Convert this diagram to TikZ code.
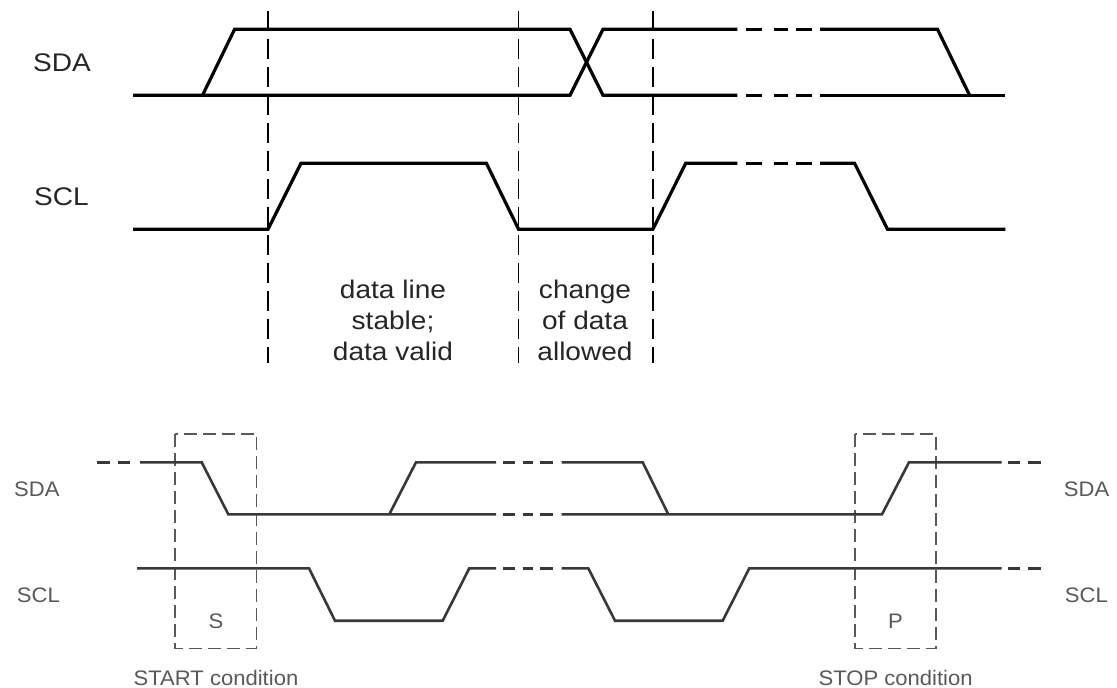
\documentclass[tikz,border=0pt]{standalone}
\usepackage{fontspec}
\setmainfont{Liberation Sans}
\newfontfamily\topf{Liberation Sans}[FakeStretch=1.1]
\newfontfamily\botf{Liberation Sans}[FakeStretch=1.05]
\tikzset{
  sig/.style={line width=3.2pt, black, line join=miter},
  bsig/.style={line width=2.6pt, black!78, line join=miter},
  vguide/.style={line width=1.4pt, black, dash pattern=on 20pt off 8pt},
  condbox/.style={line width=1.5pt, black!65, dash pattern=on 13pt off 6pt},
  toplbl/.style={inner sep=0pt, font=\topf\fontsize{25.5}{30}\selectfont, text=black!85},
  botlbl/.style={inner sep=0pt, font=\botf\fontsize{21}{25}\selectfont, text=black!65},
}
\begin{document}
\begin{tikzpicture}[x=1pt, y=-1pt]
\useasboundingbox (0,0) rectangle (1117,688);
\fill[white] (0,0) rectangle (1117,688);

% ---------- top diagram ----------
% guide lines
\draw[vguide] (268,11) -- (268,363);
\draw[vguide] (518.6,11) -- (518.6,363);
\draw[vguide] (652.9,11) -- (652.9,363);

% SDA
\draw[sig] (133,95.3) -- (570,95.3) -- (603,29.3) -- (737.3,29.3);
\draw[sig] (820,29.3) -- (937.5,29.3) -- (969.6,95.3);
\draw[sig] (202.5,95.3) -- (234.6,29.3) -- (570,29.3) -- (603,95.3) -- (737.3,95.3);
\draw[sig] (820,95.3) -- (1005.4,95.3);
\foreach \y in {29.3,95.3,163.3}{
  \draw[sig] (745.7,\y) -- (761.7,\y);
  \draw[sig] (774,\y) -- (788,\y);
  \draw[sig] (796,\y) -- (811.7,\y);
}
% SCL
\draw[sig] (133,229.3) -- (268,229.3) -- (301,163.3) -- (486.4,163.3) -- (518.6,229.3)
  -- (652.9,229.3) -- (685.7,163.3) -- (737.3,163.3);
\draw[sig] (820,163.3) -- (854.6,163.3) -- (887.5,229.3) -- (1005.4,229.3);

\node[toplbl, anchor=west] (tsda) at (33,62.7) {SDA};
\node[toplbl, anchor=west] (tscl) at (34,196.7) {SCL};

\node[toplbl, anchor=base] (s1) at (393,298) {data line};
\node[toplbl, anchor=base] (s2) at (393,329) {stable;};
\node[toplbl, anchor=base] (s3) at (393,360) {data valid};
\node[toplbl, anchor=base] (c1) at (585,298) {change};
\node[toplbl, anchor=base] (c2) at (585,329) {of data};
\node[toplbl, anchor=base] (c3) at (585,360) {allowed};

% ---------- bottom diagram ----------
\draw[condbox] (175,434) rectangle (256.5,648.3);
\draw[condbox] (855,434) rectangle (936,648.3);

% SDA
\draw[bsig] (96.7,462.3) -- (110,462.3);
\draw[bsig] (118.3,462.3) -- (130,462.3);
\draw[bsig] (140,462.3) -- (201.7,462.3) -- (228.3,514.3) -- (496,514.3);
\draw[bsig] (561.7,514.3) -- (882,514.3) -- (909,462.3) -- (1001.7,462.3);
\draw[bsig] (389.3,514.3) -- (416,462.3) -- (496,462.3);
\draw[bsig] (561.7,462.3) -- (642.7,462.3) -- (668.3,514.3);
\foreach \y in {462.3,514.3,568.3}{
  \draw[bsig] (503.3,\y) -- (515,\y);
  \draw[bsig] (522.7,\y) -- (533.3,\y);
  \draw[bsig] (540,\y) -- (553.3,\y);
}
\foreach \y in {462.3,568.3}{
  \draw[bsig] (1008.3,\y) -- (1020,\y);
  \draw[bsig] (1028.3,\y) -- (1040.7,\y);
}
% SCL
\draw[bsig] (137,568.3) -- (309,568.3) -- (335,620.7) -- (442.7,620.7) -- (469.3,568.3) -- (496,568.3);
\draw[bsig] (561.7,568.3) -- (588.3,568.3) -- (615,620.7) -- (722.7,620.7) -- (749.3,568.3) -- (1001.7,568.3);

\node[botlbl, anchor=west] (bsdal) at (14,489.3) {SDA};
\node[botlbl, anchor=west] (bscll) at (16.7,595.7) {SCL};
\node[botlbl, anchor=east] (bsdar) at (1109.5,489.3) {SDA};
\node[botlbl, anchor=east] (bsclr) at (1108,595.7) {SCL};
\node[botlbl] (sS) at (216,621.7) {S};
\node[botlbl] (sP) at (895.5,621.7) {P};
\node[botlbl] (start) at (216,678.3) {START condition};
\node[botlbl] (stop) at (895.6,678.3) {STOP condition};
\end{tikzpicture}
\end{document}
